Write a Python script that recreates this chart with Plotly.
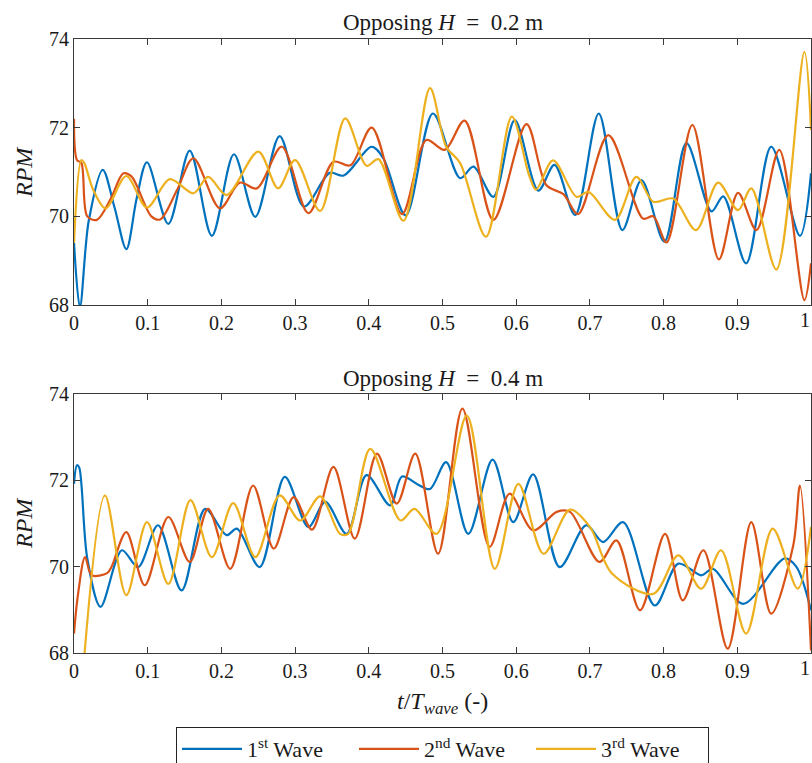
import plotly.graph_objects as go
from plotly.subplots import make_subplots

# ---------------- data ----------------
# Top panel: Opposing H = 0.2 m
t_top_w1 = [0, 0.008, 0.02, 0.039, 0.055, 0.071, 0.085, 0.099, 0.128, 0.157, 0.187, 0.217, 0.246, 0.279,
            0.312, 0.347, 0.366, 0.404, 0.42, 0.45, 0.487, 0.524, 0.542, 0.569, 0.598, 0.63, 0.652, 0.68,
            0.712, 0.744, 0.77, 0.801, 0.831, 0.865, 0.881, 0.912, 0.946, 0.985, 1.0]
rpm_top_w1 = [69.4, 67.95, 69.9, 71.05, 70.2, 69.26, 70.4, 71.22, 69.83, 71.48, 69.56, 71.4, 69.99, 71.81,
              70.22, 70.98, 70.92, 71.57, 71.3, 70.02, 72.32, 70.86, 71.12, 70.44, 72.17, 70.58, 71.16, 70.03,
              72.32, 69.69, 70.82, 69.43, 71.65, 70.11, 70.45, 68.94, 71.57, 69.56, 70.97]

t_top_w2 = [0, 0.004, 0.01, 0.018, 0.031, 0.05, 0.067, 0.078, 0.105, 0.117, 0.14, 0.162, 0.198, 0.225,
            0.248, 0.282, 0.318, 0.352, 0.375, 0.404, 0.445, 0.478, 0.503, 0.53, 0.569, 0.614, 0.641,
            0.664, 0.684, 0.725, 0.772, 0.786, 0.804, 0.839, 0.875, 0.901, 0.926, 0.957, 0.991, 1.0]
rpm_top_w2 = [72.2, 71.27, 71.2, 70.0, 69.92, 70.4, 70.97, 70.9, 70.0, 69.93, 70.6, 71.31, 70.18, 70.76,
              70.63, 71.57, 70.07, 71.23, 71.15, 72.0, 70.05, 71.72, 71.5, 72.16, 69.92, 72.08, 70.7,
              70.5, 70.05, 71.83, 69.95, 70.0, 69.41, 72.06, 69.03, 70.53, 69.69, 71.5, 68.11, 68.94]

t_top_w3 = [0, 0.01, 0.014, 0.026, 0.043, 0.071, 0.099, 0.13, 0.162, 0.182, 0.207, 0.25, 0.277, 0.3,
            0.334, 0.368, 0.397, 0.413, 0.447, 0.483, 0.505, 0.524, 0.559, 0.594, 0.618, 0.627, 0.65,
            0.682, 0.698, 0.734, 0.763, 0.786, 0.813, 0.844, 0.874, 0.901, 0.919, 0.953, 0.991, 1.0]
rpm_top_w3 = [69.4, 71.27, 71.2, 70.6, 70.18, 70.91, 70.2, 70.84, 70.52, 70.89, 70.48, 71.46, 70.63, 71.27,
              70.12, 72.21, 71.14, 71.29, 69.9, 72.89, 71.57, 71.2, 69.54, 72.25, 70.9, 70.6, 71.26,
              70.44, 70.55, 69.92, 70.89, 70.33, 70.4, 69.69, 70.76, 70.14, 70.63, 68.8, 73.71, 71.95]

# Bottom panel: Opposing H = 0.4 m
t_bot_w1 = [0, 0.004, 0.007, 0.018, 0.036, 0.065, 0.087, 0.114, 0.146, 0.178, 0.207, 0.221, 0.252, 0.286,
            0.318, 0.341, 0.37, 0.397, 0.429, 0.445, 0.467, 0.483, 0.505, 0.535, 0.568, 0.596, 0.623,
            0.659, 0.695, 0.718, 0.745, 0.788, 0.82, 0.851, 0.867, 0.908, 0.964, 0.98, 1.0]
rpm_bot_w1 = [71.92, 72.35, 72.3, 70.19, 69.07, 70.38, 69.99, 70.96, 69.45, 71.34, 70.73, 70.88, 69.99, 72.08,
              70.92, 71.5, 70.76, 72.12, 71.42, 72.09, 71.9, 71.8, 72.42, 70.76, 72.48, 71.03, 72.14,
              69.99, 70.96, 70.57, 71.03, 69.1, 70.07, 69.8, 69.95, 69.14, 70.19, 70.0, 68.99]

t_bot_w2 = [0, 0.005, 0.015, 0.024, 0.045, 0.051, 0.071, 0.096, 0.128, 0.157, 0.182, 0.212, 0.243, 0.271,
            0.298, 0.323, 0.352, 0.381, 0.411, 0.438, 0.463, 0.494, 0.527, 0.564, 0.591, 0.623, 0.655,
            0.673, 0.713, 0.736, 0.768, 0.802, 0.826, 0.854, 0.887, 0.919, 0.946, 0.976, 0.985, 1.0]
rpm_bot_w2 = [68.45, 69.3, 70.22, 69.8, 69.85, 70.0, 70.8, 69.57, 71.15, 70.11, 71.34, 69.95, 71.88, 70.42,
              71.61, 70.86, 72.31, 70.65, 72.62, 71.46, 72.62, 70.3, 73.66, 70.46, 71.69, 70.84, 71.27,
              71.27, 70.11, 70.61, 68.99, 70.76, 69.22, 70.38, 68.1, 71.03, 68.91, 70.5, 71.88, 68.06]

t_bot_w3 = [0.012, 0.042, 0.071, 0.099, 0.128, 0.158, 0.187, 0.216, 0.246, 0.279, 0.307, 0.334, 0.361,
            0.372, 0.402, 0.443, 0.462, 0.492, 0.533, 0.571, 0.603, 0.637, 0.673, 0.70, 0.73, 0.786,
            0.82, 0.851, 0.878, 0.912, 0.948, 0.982, 1.0]
rpm_bot_w3 = [67.5, 71.65, 69.34, 71.03, 69.6, 71.54, 70.22, 71.47, 70.22, 71.65, 71.07, 71.63, 70.76,
              70.76, 72.73, 71.07, 71.34, 70.76, 73.5, 69.95, 71.92, 70.3, 71.32, 70.92, 69.84, 69.37,
              70.26, 69.49, 70.38, 68.45, 70.88, 69.49, 70.92]

series_names = ["1<sup>st</sup> Wave", "2<sup>nd</sup> Wave", "3<sup>rd</sup> Wave"]
series_colors = ["#0072BD", "#D95319", "#EDB120"]
panel_titles = ["Opposing <i>H</i>\u2002=\u20020.2 m", "Opposing <i>H</i>\u2002=\u20020.4 m"]
x_ticks = [0, 0.1, 0.2, 0.3, 0.4, 0.5, 0.6, 0.7, 0.8, 0.9]
x_ticklabels = ["0", "0.1", "0.2", "0.3", "0.4", "0.5", "0.6", "0.7", "0.8", "0.9"]
x_last_tick = 1
y_ticks = [68, 70, 72, 74]

# ---------------- figure ----------------
FONT = "Liberation Serif"
AX = "#3a3a3a"
TXT = "#1a1a1a"

fig = make_subplots(rows=2, cols=1, shared_xaxes=False)

top = [(t_top_w1, rpm_top_w1), (t_top_w2, rpm_top_w2), (t_top_w3, rpm_top_w3)]
bot = [(t_bot_w1, rpm_bot_w1), (t_bot_w2, rpm_bot_w2), (t_bot_w3, rpm_bot_w3)]

for i, (x, y) in enumerate(top):
    fig.add_trace(go.Scatter(x=x, y=y, mode="lines", name=series_names[i],
                             line=dict(color=series_colors[i], width=2.2, shape="spline", smoothing=0.9),
                             showlegend=True), row=1, col=1)
for i, (x, y) in enumerate(bot):
    fig.add_trace(go.Scatter(x=x, y=y, mode="lines", name=series_names[i],
                             line=dict(color=series_colors[i], width=2.2, shape="spline", smoothing=0.9),
                             showlegend=False), row=2, col=1)

W, H = 812, 763
ml, mr, mt, mb = 74, 1, 39, 110
ph = H - mt - mb  # 614
top_dom = [(653 - 305) / ph, 1.0]
bot_dom = [0.0, (653 - 394) / ph]

axis_common = dict(showline=True, linecolor=AX, linewidth=1, mirror="ticks", ticks="inside",
                   ticklen=6, tickwidth=1, tickcolor=AX, showgrid=False, zeroline=False,
                   tickfont=dict(family=FONT, size=20, color=TXT))

fig.update_xaxes(range=[0, 1], tickvals=x_ticks, ticktext=x_ticklabels, **axis_common)
fig.update_yaxes(range=[68, 74], tickvals=y_ticks, **axis_common)
fig.update_layout(yaxis=dict(domain=top_dom), yaxis2=dict(domain=bot_dom))


def py(px):
    return (653 - px) / ph


def pxx(px):
    return (px - ml) / (W - ml - mr)


ann = []
ann.append(dict(text=panel_titles[0], x=0.5, y=py(23), xref="paper", yref="paper",
                showarrow=False, font=dict(family=FONT, size=23, color=TXT), xanchor="center", yanchor="middle"))
ann.append(dict(text=panel_titles[1], x=0.5, y=py(378), xref="paper", yref="paper",
                showarrow=False, font=dict(family=FONT, size=23, color=TXT), xanchor="center", yanchor="middle"))
ann.append(dict(text="<i>RPM</i>", x=pxx(24), y=py(172), xref="paper", yref="paper", textangle=-90,
                showarrow=False, font=dict(family=FONT, size=24, color=TXT), xanchor="center", yanchor="middle"))
ann.append(dict(text="<i>RPM</i>", x=pxx(24), y=py(523), xref="paper", yref="paper", textangle=-90,
                showarrow=False, font=dict(family=FONT, size=24, color=TXT), xanchor="center", yanchor="middle"))
ann.append(dict(text="<i>t</i>/<i>T</i><sub><i>wave</i></sub> (-)", x=0.5, y=py(703), xref="paper", yref="paper",
                showarrow=False, font=dict(family=FONT, size=24, color=TXT), xanchor="center", yanchor="middle"))
# the last x tick label "1" sits right at the page edge, as in the reference
for yy in (320, 668):
    ann.append(dict(text=str(x_last_tick), x=x_last_tick, y=py(yy), xref="x", yref="paper",
                    showarrow=False, font=dict(family=FONT, size=20, color=TXT),
                    xanchor="right", yanchor="middle", xshift=1))

fig.update_layout(
    width=W, height=H,
    margin=dict(l=ml, r=mr, t=mt, b=mb, autoexpand=False),
    paper_bgcolor="white", plot_bgcolor="white",
    font=dict(family=FONT, color=TXT),
    annotations=ann,
    legend=dict(orientation="h", x=pxx(442.5), xanchor="center", y=py(727), yanchor="top",
                bordercolor="#222", borderwidth=1, bgcolor="white",
                font=dict(family=FONT, size=22, color=TXT),
                entrywidth=102, entrywidthmode="pixels", itemwidth=60, tracegroupgap=0),
)

fig.write_html("out.html")
